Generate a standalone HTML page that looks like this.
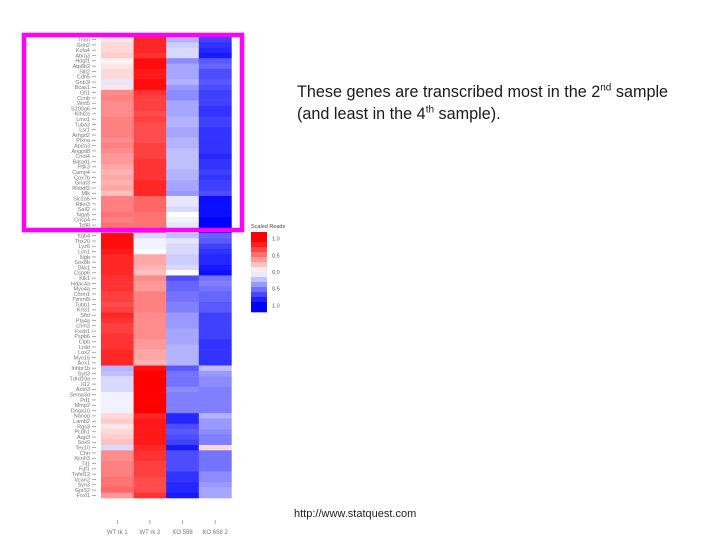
<!DOCTYPE html>
<html><head><meta charset="utf-8"><style>
body{margin:0;background:#fff;width:720px;height:540px;overflow:hidden;font-family:"Liberation Sans",sans-serif}
#c{position:absolute;left:0;top:0}
.t{position:absolute;left:297px;font-size:16.2px;color:#1a1a1a;line-height:22px;white-space:nowrap}
</style></head><body>
<svg id="c" width="720" height="540"></svg>
<div class="t" style="top:81px">These genes are transcribed most in the 2<sup style="font-size:10px;line-height:0">nd</sup> sample<br>(and least in the 4<sup style="font-size:10px;line-height:0">th</sup> sample).</div>
<div style="position:absolute;left:294px;top:508px;font-size:11px;color:#222">http://www.statquest.com</div>
<script>
const samples=["WT rk 1","WT rk 2","KO 558","KO 658 2"];
const genes=["Tmm","Grin2","Kcfa4","Abra3","Hdgf1","Atp8b2","Slit2","Cdh5","Gnb3l","Bcas1","Gfi1","Ccnb","Wnt5","S100a6","Klhl2a","Lmo1","Tuba3","Lsr1","Arhgd2","Plxna","Ap2a3","Angptl8","Cnot4","Batad1","Pdk3","Camp4","Cox7b","Gnat3","Rhbdf2","Mlk","Slc2a5","Rtkn3","Sall2","Nga5","Crisp4","Tcf4l","Hdf","Itgb4","Tbx20","Lyz6","Lim1","Ngb","Sox8b","Dkk1","Cspp6","Klk1","Hdac4a","Myo4a","Chrm1","Timm8i","Tubb1","Krt31","Sftd","Pla4a","Lhm2","Fxsb1","Pspb6","Clpb","Lrdd","Lox2","Myo15","Aox1","Inhbr1b","Sytl3","Tdrd10a","Il12","Actn3","Sema3d","Prl1","Mmp2","Dnga10","Nanog","Lamb2","Rgs3","Pcdh1","Aqp3","Sox9","Tex10","Chn","Kcnh3","Til1","Fgf1","Tnfsf12","Vcan2","Syn3","Gpr52","Foxl1"];
const c1=[0.1,0.15,0.15,0.2,0.05,0.1,0.15,0.15,-0.1,0.1,0.45,0.5,0.45,0.45,0.45,0.5,0.5,0.5,0.5,0.45,0.5,0.45,0.4,0.4,0.35,0.3,0.35,0.3,0.35,0.25,0.5,0.5,0.5,0.55,0.5,0.55,0.45,
0.95,0.95,0.95,0.9,0.85,0.85,0.85,0.85,0.8,0.8,0.8,0.75,0.75,0.7,0.75,0.85,0.8,0.75,0.75,0.8,0.8,0.8,0.85,0.85,0.85,
-0.3,-0.25,-0.15,-0.15,-0.15,-0.05,-0.05,-0.05,-0.05,0.15,0.2,0.1,0.15,0.2,0.25,-0.15,0.45,0.45,0.5,0.5,0.5,0.55,0.55,0.6,0.4];
const c2=[0.85,0.85,0.85,0.8,0.95,0.95,0.9,0.9,0.95,0.95,0.8,0.75,0.75,0.75,0.7,0.75,0.7,0.7,0.7,0.7,0.75,0.75,0.75,0.8,0.8,0.8,0.8,0.85,0.85,0.85,0.6,0.6,0.6,0.55,0.55,0.55,0.55,
-0.15,-0.05,-0.05,0.0,0.35,0.35,0.3,0.25,0.45,0.4,0.4,0.5,0.5,0.5,0.5,0.45,0.45,0.45,0.45,0.45,0.4,0.4,0.35,0.35,0.3,
0.95,1,1,1,1,1,1,1,1,0.85,0.9,0.9,0.9,0.9,0.9,0.85,0.8,0.8,0.75,0.75,0.75,0.7,0.7,0.7,0.8];
const c3=[-0.3,-0.2,-0.15,-0.15,-0.45,-0.35,-0.35,-0.35,-0.3,-0.4,-0.45,-0.45,-0.35,-0.35,-0.35,-0.3,-0.3,-0.35,-0.35,-0.3,-0.3,-0.25,-0.25,-0.25,-0.25,-0.3,-0.3,-0.35,-0.35,-0.4,-0.1,-0.1,-0.15,0.0,-0.05,-0.1,-0.1,
-0.25,-0.1,-0.15,-0.15,-0.2,-0.2,-0.15,0.0,-0.7,-0.6,-0.6,-0.55,-0.55,-0.5,-0.5,-0.4,-0.4,-0.4,-0.35,-0.35,-0.35,-0.3,-0.3,-0.3,-0.3,
-0.65,-0.55,-0.55,-0.55,-0.45,-0.5,-0.5,-0.5,-0.5,-0.85,-0.85,-0.7,-0.65,-0.7,-0.75,-0.9,-0.7,-0.7,-0.7,-0.7,-0.8,-0.8,-0.85,-0.85,-0.9];
const c4=[-0.75,-0.8,-0.85,-0.9,-0.65,-0.6,-0.7,-0.7,-0.65,-0.7,-0.75,-0.75,-0.75,-0.8,-0.8,-0.75,-0.75,-0.8,-0.8,-0.8,-0.8,-0.8,-0.85,-0.8,-0.8,-0.75,-0.8,-0.75,-0.75,-0.7,-0.95,-0.95,-0.95,-0.95,-1.0,-1.0,-0.95,
-0.6,-0.65,-0.75,-0.8,-0.85,-0.85,-0.9,-0.95,-0.55,-0.5,-0.55,-0.6,-0.6,-0.65,-0.65,-0.75,-0.75,-0.75,-0.75,-0.75,-0.8,-0.8,-0.8,-0.8,-0.8,
-0.25,-0.4,-0.45,-0.45,-0.5,-0.5,-0.5,-0.5,-0.5,-0.3,-0.4,-0.4,-0.45,-0.5,-0.5,0.15,-0.55,-0.55,-0.55,-0.55,-0.45,-0.45,-0.4,-0.35,-0.35];
const legendTicks=[1.0,0.5,0.0,-0.5,-1.0];
const legendLabels=["1.0","0.5","0.0","0.5","1.0"];

const NS="http://www.w3.org/2000/svg",svg=document.getElementById('c');
const cols=[c1,c2,c3,c4];
const X0=101,CW=32.6,Y0=37,Y1=498,RH=(Y1-Y0)/genes.length;
const xS=i=>X0+i*CW, yS=i=>Y0+i*RH;
function color(v){v=Math.max(-1,Math.min(1,v));
 if(v>=0){const g=Math.round(255*(1-v));return `rgb(255,${g},${g})`;}
 const g=Math.round(255*(1+v));return `rgb(${g},${g},255)`;}
function mk(tag,a){const e=document.createElementNS(NS,tag);for(const k in a)e.setAttribute(k,a[k]);svg.appendChild(e);return e;}
cols.forEach((col,ci)=>col.forEach((v,ri)=>{
 const r=mk('rect',{x:xS(ci),y:yS(ri),width:CW+0.3,height:RH+0.3,fill:color(v)});
 
 
}));
genes.forEach((g,ri)=>{
 const t=mk('text',{x:90,y:yS(ri)+RH*0.85,'font-size':5.5,'text-anchor':'end',fill:'#777'});t.textContent=g;
 
 
 mk('line',{x1:92,x2:96,y1:yS(ri)+RH/2,y2:yS(ri)+RH/2,stroke:'#888','stroke-width':0.7});
});
samples.forEach((s,ci)=>{
 const cx=xS(ci)+CW/2;
 mk('line',{x1:cx,x2:cx,y1:520,y2:524,stroke:'#888','stroke-width':0.7});
 const t=mk('text',{x:cx,y:534,'font-size':6,'text-anchor':'middle',fill:'#777'});t.textContent=s;
 
 
});
const LX=251,LT=232,LB=312,lv=v=>LT+(1.2-v)/2.4*(LB-LT);
for(let i=0;i<16;i++){const v=1.2-i*0.16;
 const r=mk('rect',{x:LX,y:LT+i*(LB-LT)/16,width:16,height:(LB-LT)/16+0.3,fill:color(v)});
 
 }
legendTicks.forEach((v,i)=>{
 const t=mk('text',{x:272,y:lv(v)+2,'font-size':5.5,fill:'#555'});t.textContent=legendLabels[i];
 
 
});
const lt=mk('text',{x:251,y:228,'font-size':5.5,fill:'#444'});lt.textContent="Scaled Reads";


const hb=mk('rect',{x:24,y:35,width:218,height:195,fill:'none',stroke:'#f0f',"stroke-width":4.5});


</script>
</body></html>
